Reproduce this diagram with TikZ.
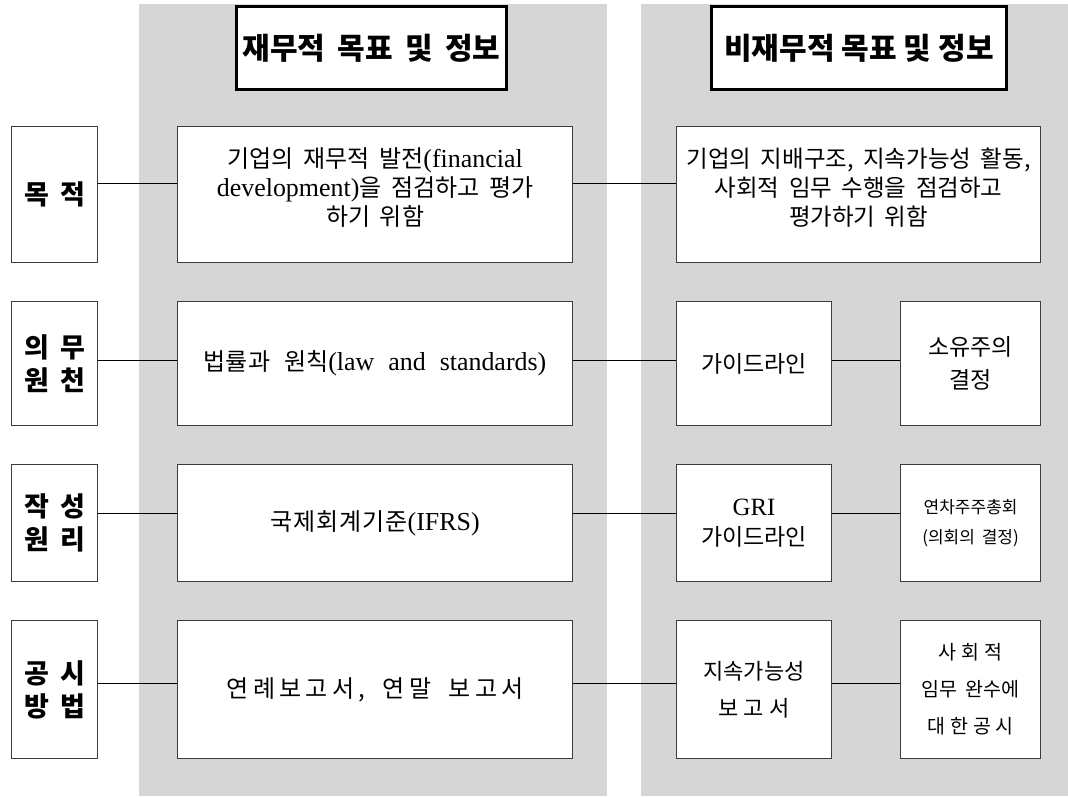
\documentclass[tikz,border=0pt]{standalone}
\usepackage{fontspec}
\setmainfont{Noto Sans CJK KR}[WordSpace=1.8]
\newfontfamily\latf{Liberation Serif}[Scale=1.08,WordSpace=1.6]
\newcommand{\latn}[1]{{\latf #1}}
\newcommand{\lsp}[1]{\addfontfeature{LetterSpace=#1}}
\definecolor{panelgray}{RGB}{214,214,214}
\definecolor{boxline}{RGB}{60,60,60}
\begin{document}
\begin{tikzpicture}[x=1pt,y=-1pt,
  hdr/.style={draw=black, line width=3pt, fill=white, anchor=north west, inner sep=0pt,
    font=\fontsize{30}{34}\selectfont\bfseries},
  lab/.style={draw=boxline, line width=1.2pt, fill=white, anchor=north west, inner sep=0pt,
    align=center, minimum width=86pt, font=\fontsize{27}{33}\selectfont\bfseries},
  bx/.style={draw=boxline, line width=1.2pt, fill=white, anchor=north west, inner sep=0pt,
    align=center, font=\fontsize{24}{33}\selectfont},
  txt/.style={inner sep=0pt, align=center, font=\fontsize{24}{29}\selectfont},
  conn/.style={draw=black, line width=1pt}]
\useasboundingbox (0,0) rectangle (1068,796);
\fill[white] (0,0) rectangle (1068,796);
% panels
\fill[panelgray] (139,4) rectangle (607,796);
\fill[panelgray] (641,4) rectangle (1068,796);
% headers
\node[hdr, minimum width=270pt, minimum height=83pt] (h1) at (235,5) {재무적 목표 및 정보};
\node[hdr, minimum width=295pt, minimum height=83pt] (h2) at (710,5) {\spaceskip=7pt 비재무적 목표 및 정보};
% row coordinates
\coordinate (y1) at (0,183);
\coordinate (y2) at (0,360);
\coordinate (y3) at (0,513);
\coordinate (y4) at (0,683);
% row 1
\node[lab, minimum height=136pt] (l1) at (11,126) {목 적};
\node[bx, minimum width=395pt, minimum height=136pt] (f1) at (177,126) {};
\node[txt] (f1t) at ([yshift=7pt]f1.center)
  {기업의 재무적 발전\latn{(financial}\\\latn{development)}을 점검하고 평가\\하기 위함};
\node[bx, minimum width=364pt, minimum height=136pt] (n1) at (676,126) {};
\node[txt, font=\fontsize{23.5}{29}\selectfont] (n1t) at ([yshift=7pt]n1.center)
  {기업의 지배구조, 지속가능성 활동,\\사회적 임무 수행을 점검하고\\평가하기 위함};
% row 2
\node[lab, minimum height=124pt] (l2) at (11,301) {의 무\\원 천};
\node[bx, minimum width=395pt, minimum height=124pt] (f2) at (177,301)
  {\spaceskip=14pt plus 2pt 법률과 원칙\latn{(law and standards)}};
\node[bx, minimum width=155pt, minimum height=124pt, font=\fontsize{23}{33}\selectfont] (a2) at (676,301) {가이드라인};
\node[bx, minimum width=140pt, minimum height=124pt, font=\fontsize{23}{33}\selectfont] (b2) at (900,301) {소유주의\\결정};
% row 3
\node[lab, minimum height=117pt] (l3) at (11,464) {작 성\\원 리};
\node[bx, minimum width=395pt, minimum height=117pt] (f3) at (177,464)
  {{\lsp{4}국제회계기준}\latn{(IFRS)}};
\node[bx, minimum width=155pt, minimum height=117pt, font=\fontsize{23}{30}\selectfont] (a3) at (676,464) {\latn{GRI}\\가이드라인};
\node[bx, minimum width=140pt, minimum height=117pt, font=\fontsize{17}{30}\selectfont] (b3) at (900,464)
  {연차주주총회\\(의회의 결정)};
% row 4
\node[lab, minimum height=138pt] (l4) at (11,620) {공 시\\방 법};
\node[bx, minimum width=395pt, minimum height=138pt] (f4) at (177,620)
  {{\lsp{18}연례보고서, 연말 보고서}};
\node[bx, minimum width=155pt, minimum height=138pt, font=\fontsize{22}{37}\selectfont] (a4) at (676,620)
  {지속가능성\\{\lsp{25}보고서}};
\node[bx, minimum width=140pt, minimum height=138pt, font=\fontsize{19.5}{37}\selectfont] (b4) at (900,620)
  {{\lsp{25}사회적}\\임무 완수에\\{\lsp{25}대한공시}};
% connectors
\draw[conn] (l1.east |- y1) -- (f1.west |- y1);
\draw[conn] (f1.east |- y1) -- (n1.west |- y1);
\draw[conn] (l2.east |- y2) -- (f2.west |- y2);
\draw[conn] (f2.east |- y2) -- (a2.west |- y2);
\draw[conn] (a2.east |- y2) -- (b2.west |- y2);
\draw[conn] (l3.east |- y3) -- (f3.west |- y3);
\draw[conn] (f3.east |- y3) -- (a3.west |- y3);
\draw[conn] (a3.east |- y3) -- (b3.west |- y3);
\draw[conn] (l4.east |- y4) -- (f4.west |- y4);
\draw[conn] (f4.east |- y4) -- (a4.west |- y4);
\draw[conn] (a4.east |- y4) -- (b4.west |- y4);
\end{tikzpicture}
\end{document}
